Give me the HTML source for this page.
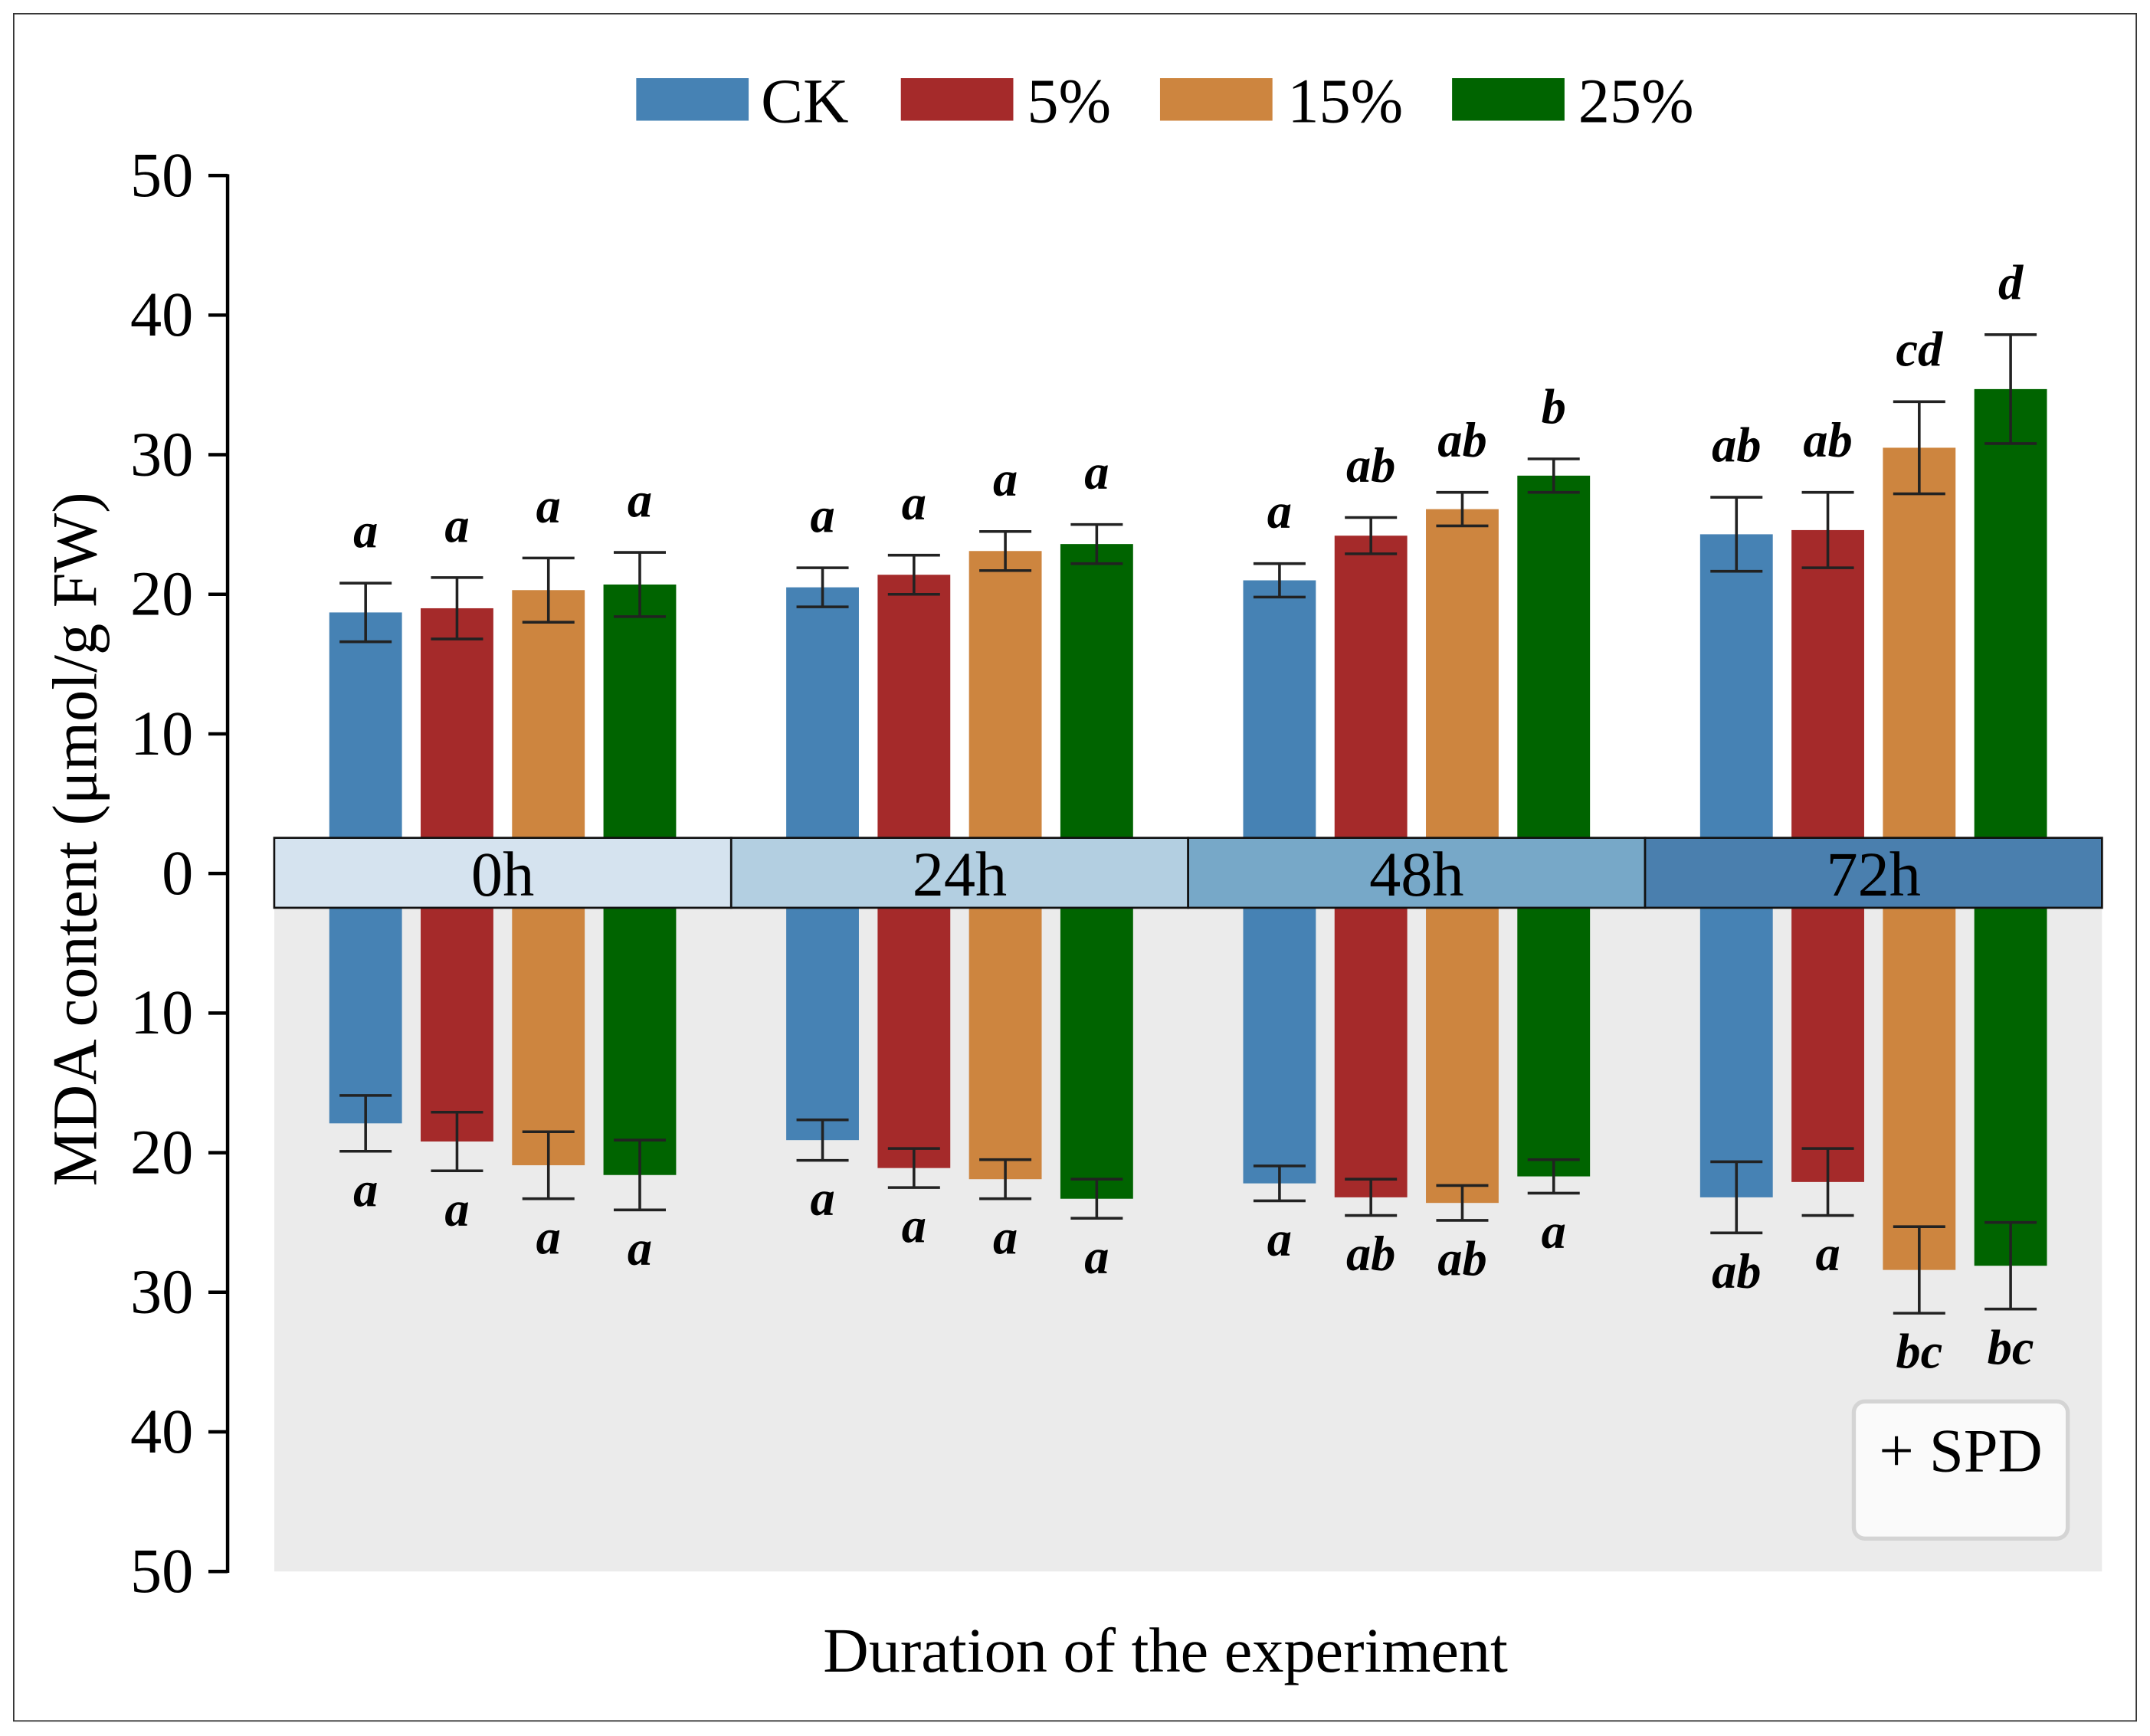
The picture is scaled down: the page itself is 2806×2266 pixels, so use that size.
<!DOCTYPE html>
<html><head><meta charset="utf-8"><style>
html,body{margin:0;padding:0;background:#fff;}
svg{display:block;}
text{font-family:"Liberation Serif",serif;}
</style></head><body>
<svg id="chart" width="2806" height="2266" viewBox="0 0 1568 1266" preserveAspectRatio="none" xmlns="http://www.w3.org/2000/svg">
<rect x="10" y="10" width="1548" height="1245" fill="#fff" stroke="#333" stroke-width="1"/>
<rect x="200" y="637" width="1333" height="509" fill="#ebebeb"/>
<g id="bars"></g>
<g id="strip"></g>
<g id="axis"></g>
<g id="legend">
<rect x="464" y="57" width="82" height="31" fill="#4682b4"/>
<text x="555" y="89" font-size="46">CK</text>
<rect x="657" y="57" width="82" height="31" fill="#a52a2a"/>
<text x="749" y="89" font-size="46">5%</text>
<rect x="846" y="57" width="82" height="31" fill="#cd853f"/>
<text x="939" y="89" font-size="46">15%</text>
<rect x="1059" y="57" width="82" height="31" fill="#006400"/>
<text x="1151" y="89" font-size="46">25%</text>
</g>
<text x="0" y="0" font-size="46" text-anchor="middle" transform="translate(70,612) rotate(-90)">MDA content (μmol/g FW)</text>
<text x="850" y="1219" font-size="46" text-anchor="middle">Duration of the experiment</text>
<rect x="1352" y="1022" width="156" height="100" rx="8" fill="#fafafa" stroke="#d4d4d4" stroke-width="3"/>
<text x="1430" y="1073" font-size="45" text-anchor="middle">+ SPD</text>
</svg>
<script>
const groups = ["0h","24h","48h","72h"];
const series = ["CK","5%","15%","25%"];
const colors = ["#4682b4","#a52a2a","#cd853f","#006400"];
const stripColors = ["#d5e3ef","#b3cfe1","#77a8c8","#4a7fae"];
const topCK = [18.7,20.5,21.0,24.3];
const top5 = [19.0,21.4,24.2,24.6];
const top15 = [20.3,23.1,26.1,30.5];
const top25 = [20.7,23.6,28.5,34.7];
const topErrCK = [2.1,1.4,1.2,2.65];
const topErr5 = [2.2,1.4,1.3,2.7];
const topErr15 = [2.3,1.4,1.2,3.3];
const topErr25 = [2.3,1.4,1.2,3.9];
const botCK = [17.9,19.1,22.2,23.2];
const bot5 = [19.2,21.1,23.2,22.1];
const bot15 = [20.9,21.9,23.6,28.4];
const bot25 = [21.6,23.3,21.7,28.1];
const botErrCK = [2.0,1.45,1.25,2.55];
const botErr5 = [2.1,1.4,1.3,2.4];
const botErr15 = [2.4,1.4,1.25,3.1];
const botErr25 = [2.5,1.4,1.2,3.1];
const topLetters = [["a","a","a","a"],["a","a","a","a"],["a","ab","ab","b"],["ab","ab","cd","d"]];
const botLetters = [["a","a","a","a"],["a","a","a","a"],["a","ab","ab","a"],["ab","a","bc","bc"]];
const tickLabels = ["50","40","30","20","10","0","10","20","30","40","50"];
const tickValues = [50,40,30,20,10,0,-10,-20,-30,-40,-50];

const NS="http://www.w3.org/2000/svg";
const zeroY=637, pxPerUnit=10.18, plotX0=200, groupW=333.25, barW=53, capW=38;
function yScale(v){return zeroY - v*pxPerUnit;}
function xCenter(g,s){return plotX0 + groupW*g + groupW/5*(s+1);}
function mk(tag,attrs,parent){const e=document.createElementNS(NS,tag);for(const k in attrs)e.setAttribute(k,attrs[k]);parent.appendChild(e);return e;}

const tops=[topCK,top5,top15,top25], topErrs=[topErrCK,topErr5,topErr15,topErr25];
const bots=[botCK,bot5,bot15,bot25], botErrs=[botErrCK,botErr5,botErr15,botErr25];
const barsG=document.getElementById('bars');
for(let g=0;g<groups.length;g++){
  for(let s=0;s<series.length;s++){
    const cx=xCenter(g,s);
    const v=tops[s][g], e=topErrs[s][g];
    const r=mk('rect',{x:cx-barW/2,y:yScale(v),width:barW,height:yScale(0)-yScale(v),fill:colors[s]},barsG);
    
    
    const bv=bots[s][g], be=botErrs[s][g];
    const rb=mk('rect',{x:cx-barW/2,y:yScale(0),width:barW,height:yScale(-bv)-yScale(0),fill:colors[s]},barsG);
    
    
    const eg=mk('g',{stroke:'#222','stroke-width':2},barsG);
    
    
    mk('line',{x1:cx,x2:cx,y1:yScale(v+e),y2:yScale(v-e)},eg);
    mk('line',{x1:cx-capW/2,x2:cx+capW/2,y1:yScale(v+e),y2:yScale(v+e)},eg);
    mk('line',{x1:cx-capW/2,x2:cx+capW/2,y1:yScale(v-e),y2:yScale(v-e)},eg);
    const ebg=mk('g',{stroke:'#222','stroke-width':2},barsG);
    
    
    mk('line',{x1:cx,x2:cx,y1:yScale(-(bv-be)),y2:yScale(-(bv+be))},ebg);
    mk('line',{x1:cx-capW/2,x2:cx+capW/2,y1:yScale(-(bv-be)),y2:yScale(-(bv-be))},ebg);
    mk('line',{x1:cx-capW/2,x2:cx+capW/2,y1:yScale(-(bv+be)),y2:yScale(-(bv+be))},ebg);
    const t=mk('text',{x:cx,y:yScale(v+e)-26,'font-size':36,'font-weight':'bold','font-style':'italic','text-anchor':'middle'},barsG);
    t.textContent=topLetters[g][s];
    
    
    const tb=mk('text',{x:cx,y:yScale(-(bv+be))+40,'font-size':36,'font-weight':'bold','font-style':'italic','text-anchor':'middle'},barsG);
    tb.textContent=botLetters[g][s];
    
    
  }
}
const stripG=document.getElementById('strip');
for(let g=0;g<groups.length;g++){
  const x=plotX0+groupW*g;
  const r=mk('rect',{x:x,y:611,width:groupW,height:51,fill:stripColors[g],stroke:'#111','stroke-width':1.5},stripG);
  
  
  const t=mk('text',{x:x+groupW/2,y:653,'font-size':46,'text-anchor':'middle'},stripG);
  t.textContent=groups[g];
  
  
}
const axG=document.getElementById('axis');
const al=mk('line',{x1:166,x2:166,y1:yScale(50)-1,y2:yScale(-50)+1,stroke:'#000','stroke-width':2.5},axG);


for(let i=0;i<tickValues.length;i++){
  const y=yScale(tickValues[i]);
  const tk=mk('line',{x1:152,x2:166,y1:y,y2:y,stroke:'#000','stroke-width':2.5},axG);
  
  
  const t=mk('text',{x:141,y:y+15,'font-size':46,'text-anchor':'end'},axG);
  t.textContent=tickLabels[i];
  
  
}
</script>
</body></html>
